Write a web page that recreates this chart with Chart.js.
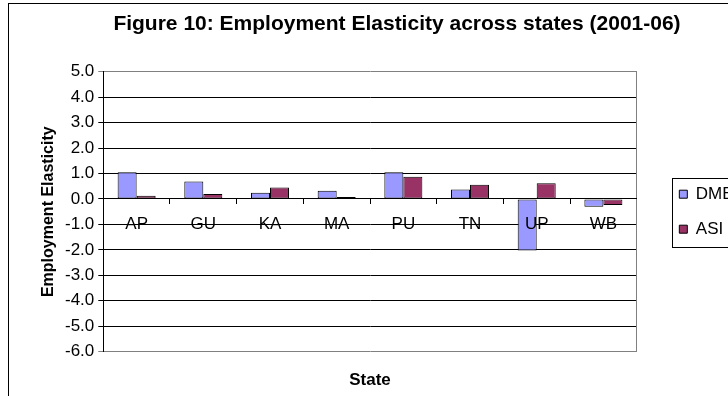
<!DOCTYPE html>
<html>
<head>
<meta charset="utf-8">
<title>Employment Elasticity across states</title>
<script src="https://cdn.jsdelivr.net/npm/chart.js@4.4.1/dist/chart.umd.min.js"></script>
<style>
  html, body { margin: 0; padding: 0; background: #fff; overflow: hidden; }
  body { width: 728px; height: 396px; position: relative; }
  #frame { position: absolute; left: 8px; top: 3px; border: 1px solid #000; }
  canvas { display: block; }
</style>
</head>
<body>
<div id="frame"><canvas id="elasticity" width="766" height="400"></canvas></div>
<script>
const states = ["AP", "GU", "KA", "MA", "PU", "TN", "UP", "WB"];
const dmeValues = [1.05, 0.69, 0.24, 0.32, 1.05, 0.37, -2.02, -0.31];
const asiValues = [0.13, 0.20, 0.45, 0.08, 0.87, 0.56, 0.62, -0.24];
const yTicks = [5, 4, 3, 2, 1, 0, -1, -2, -3, -4, -5, -6];

Chart.defaults.font.family = "Arial, 'Liberation Sans', sans-serif";
Chart.defaults.color = "#000";

// top and bottom lines of the plot are grey, the rest black
const edgeValues = [yTicks[0], yTicks[yTicks.length - 1]];

// box drawn round the legend entries
const legendFrame = {
    id: "legendFrame",
    afterDraw(chart) {
        const boxes = chart.legend && chart.legend.legendHitBoxes;
        if (!boxes || !boxes.length) return;
        const first = boxes[0];
        const last = boxes[boxes.length - 1];
        const ctx = chart.ctx;
        const x = Math.round(first.left - 7) + 0.5;
        const top = Math.round(first.top - 8);
        const bottom = Math.round(last.top + last.height + 9);
        ctx.save();
        ctx.strokeStyle = "#000";
        ctx.lineWidth = 1;
        ctx.strokeRect(x, top + 0.5, chart.width - x + 10, bottom - top);
        ctx.restore();
    },
};

new Chart(document.getElementById("elasticity"), {
    type: "bar",
    data: {
        labels: states,
        datasets: [
            {
                label: "DME",
                data: dmeValues,
                backgroundColor: "#9999FF",
                borderColor: "#000",
                borderWidth: 1,
                borderSkipped: false,
                xAxisID: "x",
                yAxisID: "y",
            },
            {
                label: "ASI",
                data: asiValues,
                backgroundColor: "#993366",
                borderColor: "#000",
                borderWidth: 1,
                borderSkipped: false,
                xAxisID: "x",
                yAxisID: "y",
            },
        ],
    },
    options: {
        responsive: false,
        animation: false,
        barPercentage: 1,
        categoryPercentage: 0.57,
        layout: {
            padding: { left: 10, right: 0, top: 0, bottom: 9.8 },
        },
        scales: {
            // category axis sits on the zero line, labels drawn over the bars
            x: {
                type: "category",
                position: { y: 0 },
                grid: {
                    drawOnChartArea: false,
                    drawTicks: true,
                    tickLength: 5,
                    color: "#000",
                },
                border: { color: "#000", z: 1 },
                ticks: {
                    color: "#000",
                    padding: 10.5,
                    z: 1,
                    font: { size: 17 },
                },
            },
            // only carries the axis title at the bottom
            xTitle: {
                type: "category",
                position: "bottom",
                grid: { display: false, drawTicks: false },
                border: { display: false },
                ticks: { display: false },
                title: {
                    display: true,
                    text: "State",
                    color: "#000",
                    font: { size: 17, weight: "bold" },
                    padding: { top: 18.1, bottom: 4 },
                },
            },
            y: {
                position: "left",
                min: Math.min(...yTicks),
                max: Math.max(...yTicks),
                ticks: {
                    stepSize: 1,
                    color: "#000",
                    padding: 4,
                    font: { size: 17 },
                    callback: (v) => v.toFixed(1),
                },
                grid: {
                    tickLength: 5,
                    color: (c) =>
                        c.tick && edgeValues.includes(c.tick.value) ? "#808080" : "#000",
                },
                border: { color: "#000" },
                title: {
                    display: true,
                    text: "Employment Elasticity",
                    color: "#000",
                    font: { size: 16, weight: "bold" },
                    padding: { top: 19.7, bottom: 3.1 },
                },
            },
            // grey right edge of the plot, plus the gap before the legend
            yFrame: {
                type: "linear",
                position: "right",
                grid: { display: false, drawTicks: false },
                ticks: { display: false },
                border: { display: true, color: "#808080" },
                afterFit: (s) => {
                    s.width = 24.6;
                },
            },
            // empty space right of the legend
            pad: {
                type: "linear",
                position: "right",
                weight: 1500,
                grid: { display: false, drawTicks: false },
                ticks: { display: false },
                border: { display: false },
                afterFit: (s) => {
                    s.width = 31.4;
                },
            },
        },
        plugins: {
            title: {
                display: true,
                text: "Figure 10: Employment Elasticity across states (2001-06)",
                color: "#000",
                font: { size: 21, weight: "bold" },
                padding: { top: 7.7, bottom: 34.8 },
            },
            legend: {
                position: "right",
                fullSize: false,
                labels: {
                    boxWidth: 8,
                    boxHeight: 8,
                    padding: 18,
                    color: "#000",
                    font: { size: 17 },
                },
            },
            tooltip: { enabled: false },
        },
    },
    plugins: [legendFrame],
});
</script>
</body>
</html>
